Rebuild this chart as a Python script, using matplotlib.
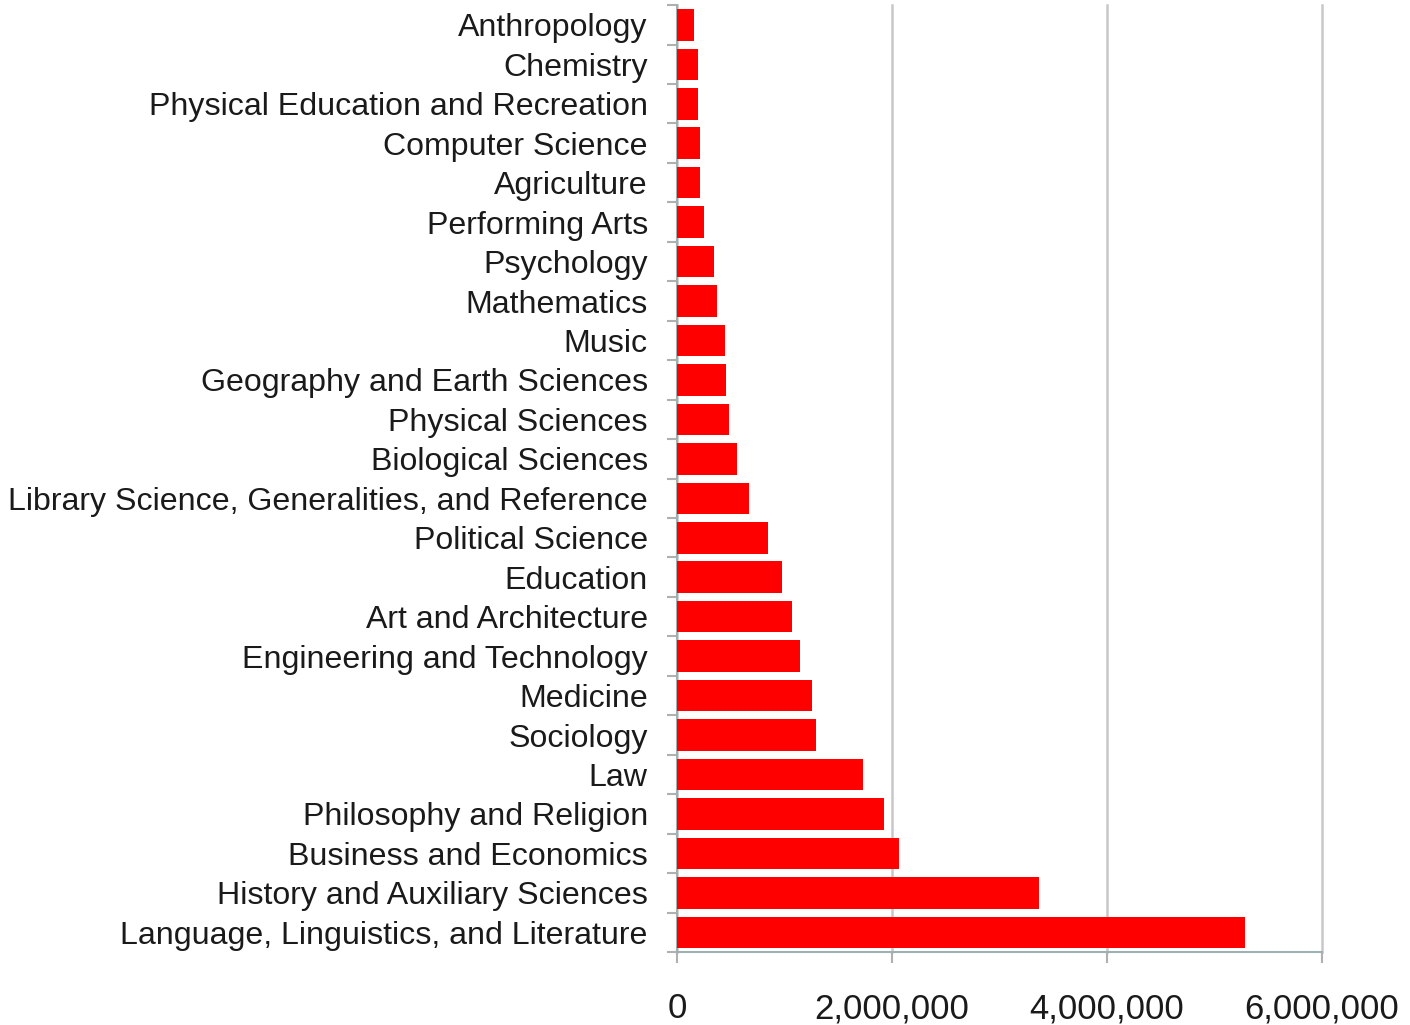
import matplotlib
matplotlib.use("Agg")
import matplotlib.pyplot as plt
from matplotlib.ticker import FuncFormatter, FixedLocator

# categories from bottom to top, as drawn
subjects = [
    "Language, Linguistics, and Literature",
    "History and Auxiliary Sciences",
    "Business and Economics",
    "Philosophy and Religion",
    "Law",
    "Sociology",
    "Medicine",
    "Engineering and Technology",
    "Art and Architecture",
    "Education",
    "Political Science",
    "Library Science, Generalities, and Reference",
    "Biological Sciences",
    "Physical Sciences",
    "Geography and Earth Sciences",
    "Music",
    "Mathematics",
    "Psychology",
    "Performing Arts",
    "Agriculture",
    "Computer Science",
    "Physical Education and Recreation",
    "Chemistry",
    "Anthropology",
]

# approximate counts
counts = [
    5284000, 3369000, 2068000, 1926000, 1733000, 1292000, 1258000, 1150000,
    1075000, 982000, 848000, 671000, 563000, 480000, 457000, 445000,
    377000, 345000, 252000, 219000, 219000, 194000, 194000, 156000,
]

x_ticks = [0, 2000000, 4000000, 6000000]

plt.rcParams['font.family'] = ['Liberation Sans', 'DejaVu Sans']

fig = plt.figure(figsize=(14.1, 10.25), dpi=100)
ax = fig.add_axes([0.4801, 0.0712, 0.9373 - 0.4801, 0.995 - 0.0712])

pos = list(range(len(subjects)))
ax.barh(pos, counts, height=0.8, color='#ff0000', zorder=3)

ax.set_xlim(0, 6000000)
ax.set_ylim(-0.5, len(subjects) - 0.5)

# gridlines at the major x ticks
ax.set_xticks(x_ticks)
ax.xaxis.set_major_formatter(FuncFormatter(lambda v, p: f"{int(v):,}"))
ax.grid(axis='x', color='#c8c8c8', linewidth=1.8, zorder=0)
ax.set_axisbelow(True)
for gl in ax.get_xgridlines():
    gl.set_clip_on(False)

# labels on categories, tick marks on boundaries
ax.set_yticks(pos)
ax.set_yticklabels(subjects)
ax.yaxis.set_minor_locator(FixedLocator([p - 0.5 for p in range(len(subjects) + 1)]))
ax.tick_params(axis='y', which='major', length=0, pad=21, labelsize=23.1, labelcolor='#1a1a1a')
ax.tick_params(axis='y', which='minor', length=7, width=1.5, color='#b0b0b0')
ax.tick_params(axis='x', which='major', length=8, width=1.5, color='#b0b0b0',
               pad=21, labelsize=25, labelcolor='#1a1a1a')

for s in ['top', 'right']:
    ax.spines[s].set_visible(False)
for s in ['left', 'bottom']:
    ax.spines[s].set_color('#9fb0b0')
    ax.spines[s].set_linewidth(1.5)

fig.savefig("out.png", dpi=100, facecolor='white')
